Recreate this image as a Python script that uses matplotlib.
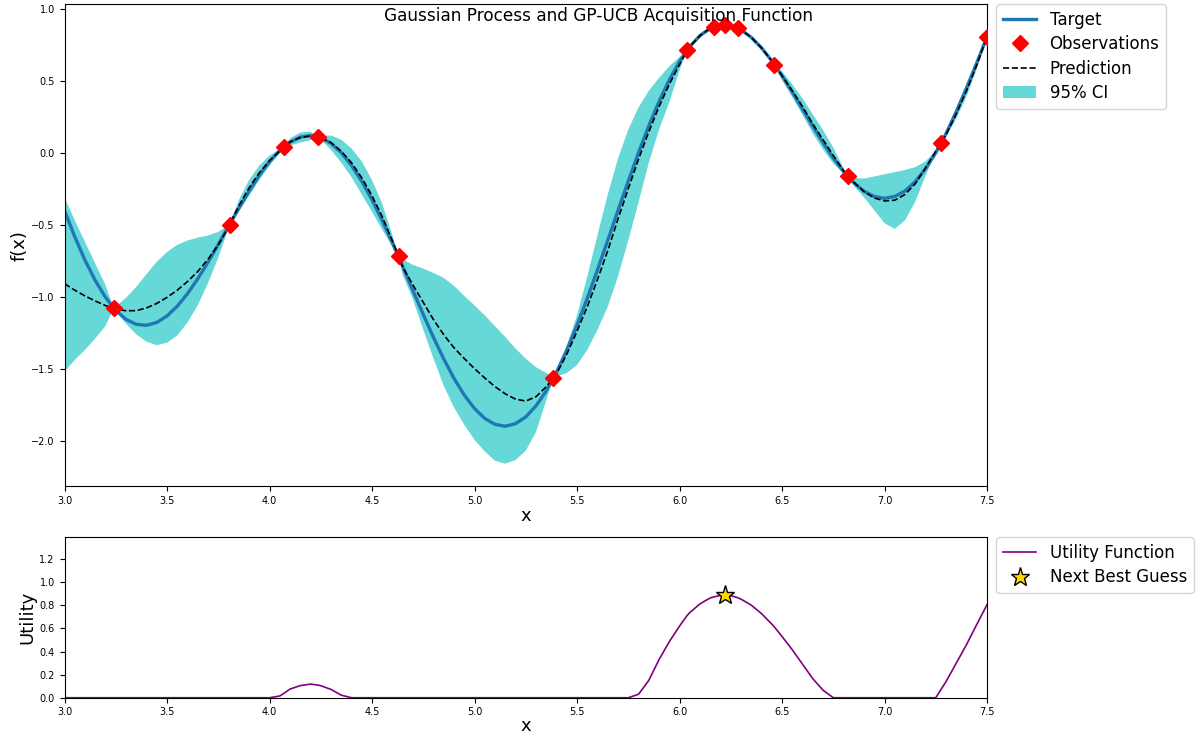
import numpy as np
import matplotlib.pyplot as plt

# objective f(x) on a regular grid
target_x = np.linspace(3.0, 7.5, 91)
target_y = [
    -0.403, -0.584, -0.747, -0.888, -1.005, -1.095, -1.158, -1.192, -1.199, -1.179,
    -1.134, -1.066, -0.979, -0.876, -0.761, -0.638, -0.512, -0.387, -0.268, -0.158,
    -0.063, 0.015, 0.073, 0.108, 0.119, 0.105, 0.065, 0.000, -0.089, -0.198,
    -0.327, -0.472, -0.628, -0.792, -0.959, -1.124, -1.284, -1.433, -1.568, -1.684,
    -1.777, -1.846, -1.887, -1.900, -1.882, -1.835, -1.758, -1.654, -1.524, -1.371,
    -1.199, -1.012, -0.813, -0.608, -0.401, -0.197, 0.000, 0.186, 0.355, 0.505,
    0.634, 0.737, 0.814, 0.864, 0.887, 0.883, 0.854, 0.801, 0.728, 0.638,
    0.534, 0.421, 0.303, 0.184, 0.069, -0.037, -0.131, -0.209, -0.268, -0.304,
    -0.317, -0.304, -0.266, -0.201, -0.112, 0.000, 0.133, 0.284, 0.449, 0.624,
    0.806,
]

# sampled points
obs_x = [3.24, 3.805, 4.07, 4.235, 4.63, 5.385, 6.037, 6.17, 6.224, 6.285, 6.463, 6.82, 7.275, 7.5]
obs_y = [-1.08, -0.50, 0.038, 0.109, -0.72, -1.563, 0.712, 0.874, 0.888, 0.865, 0.612, -0.164, 0.065, 0.806]

# GP posterior and acquisition values
gp_x = [
    3.00, 3.05, 3.10, 3.15, 3.20, 3.24, 3.25, 3.30,
    3.35, 3.40, 3.45, 3.50, 3.55, 3.60, 3.65, 3.70,
    3.75, 3.80, 3.805, 3.85, 3.90, 3.95, 4.00, 4.05,
    4.07, 4.10, 4.15, 4.20, 4.235, 4.25, 4.30, 4.35,
    4.40, 4.45, 4.50, 4.55, 4.60, 4.63, 4.65, 4.70,
    4.75, 4.80, 4.85, 4.90, 4.95, 5.00, 5.05, 5.10,
    5.15, 5.20, 5.25, 5.30, 5.35, 5.385, 5.40, 5.45,
    5.50, 5.55, 5.60, 5.65, 5.70, 5.75, 5.80, 5.85,
    5.90, 5.95, 6.00, 6.037, 6.05, 6.10, 6.15, 6.17,
    6.20, 6.224, 6.25, 6.285, 6.30, 6.35, 6.40, 6.45,
    6.463, 6.50, 6.55, 6.60, 6.65, 6.70, 6.75, 6.80,
    6.82, 6.85, 6.90, 6.95, 7.00, 7.05, 7.10, 7.15,
    7.20, 7.25, 7.275, 7.30, 7.35, 7.40, 7.45, 7.50,
]
gp_mean = [
    -0.910, -0.955, -0.995, -1.030, -1.062, -1.080, -1.085, -1.098,
    -1.097, -1.078, -1.047, -1.005, -0.955, -0.895, -0.825, -0.740,
    -0.640, -0.515, -0.500, -0.370, -0.245, -0.140, -0.055, 0.012,
    0.038, 0.075, 0.105, 0.117, 0.109, 0.103, 0.070, 0.010,
    -0.070, -0.175, -0.300, -0.445, -0.615, -0.720, -0.795, -0.920,
    -1.040, -1.160, -1.265, -1.355, -1.430, -1.500, -1.565, -1.625,
    -1.675, -1.712, -1.725, -1.695, -1.625, -1.563, -1.535, -1.400,
    -1.240, -1.070, -0.880, -0.680, -0.460, -0.250, -0.045, 0.145,
    0.320, 0.475, 0.612, 0.712, 0.737, 0.813, 0.864, 0.874,
    0.886, 0.888, 0.883, 0.865, 0.853, 0.801, 0.728, 0.637,
    0.612, 0.535, 0.430, 0.320, 0.200, 0.090, -0.020, -0.125,
    -0.164, -0.205, -0.270, -0.315, -0.335, -0.330, -0.290, -0.215,
    -0.105, 0.010, 0.065, 0.125, 0.270, 0.430, 0.610, 0.806,
]
ci_upper = [
    -0.310, -0.470, -0.620, -0.770, -0.920, -1.080, -1.069, -1.008,
    -0.932, -0.843, -0.757, -0.690, -0.640, -0.610, -0.590, -0.575,
    -0.550, -0.505, -0.500, -0.330, -0.190, -0.090, -0.020, 0.024,
    0.038, 0.100, 0.140, 0.147, 0.109, 0.115, 0.120, 0.090,
    0.030, -0.060, -0.190, -0.355, -0.575, -0.720, -0.740, -0.780,
    -0.805, -0.835, -0.870, -0.925, -0.995, -1.060, -1.130, -1.205,
    -1.280, -1.360, -1.430, -1.490, -1.530, -1.563, -1.515, -1.340,
    -1.130, -0.860, -0.570, -0.290, -0.040, 0.160, 0.315, 0.430,
    0.520, 0.600, 0.665, 0.712, 0.742, 0.828, 0.870, 0.874,
    0.889, 0.888, 0.885, 0.865, 0.855, 0.812, 0.742, 0.643,
    0.612, 0.565, 0.475, 0.378, 0.266, 0.158, 0.035, -0.105,
    -0.164, -0.175, -0.180, -0.165, -0.150, -0.135, -0.120, -0.100,
    -0.060, 0.015, 0.065, 0.150, 0.315, 0.480, 0.650, 0.806,
]
ci_lower = [
    -1.520, -1.440, -1.370, -1.290, -1.204, -1.080, -1.101, -1.188,
    -1.262, -1.313, -1.337, -1.320, -1.270, -1.180, -1.060, -0.905,
    -0.730, -0.525, -0.500, -0.410, -0.300, -0.190, -0.090, 0.000,
    0.038, 0.050, 0.070, 0.087, 0.109, 0.091, 0.020, -0.070,
    -0.170, -0.290, -0.410, -0.535, -0.655, -0.720, -0.850, -1.020,
    -1.230, -1.430, -1.620, -1.770, -1.890, -1.995, -2.075, -2.140,
    -2.160, -2.135, -2.070, -1.940, -1.720, -1.563, -1.555, -1.530,
    -1.475, -1.370, -1.230, -1.070, -0.860, -0.610, -0.345, -0.070,
    0.160, 0.350, 0.570, 0.712, 0.732, 0.798, 0.858, 0.874,
    0.883, 0.888, 0.881, 0.865, 0.851, 0.790, 0.714, 0.631,
    0.612, 0.505, 0.385, 0.262, 0.134, 0.022, -0.075, -0.145,
    -0.164, -0.230, -0.310, -0.400, -0.490, -0.530, -0.470, -0.340,
    -0.160, 0.000, 0.065, 0.110, 0.235, 0.390, 0.580, 0.806,
]
utility = [
    0, 0, 0, 0, 0, 0, 0, 0,
    0, 0, 0, 0, 0, 0, 0, 0,
    0, 0, 0, 0, 0, 0, 0, 0.015,
    0.038, 0.075, 0.105, 0.118, 0.110, 0.104, 0.072, 0.022,
    0, 0, 0, 0, 0, 0, 0, 0,
    0, 0, 0, 0, 0, 0, 0, 0,
    0, 0, 0, 0, 0, 0, 0, 0,
    0, 0, 0, 0, 0, 0, 0.030, 0.150,
    0.330, 0.485, 0.620, 0.712, 0.737, 0.813, 0.864, 0.874,
    0.886, 0.888, 0.883, 0.865, 0.853, 0.801, 0.728, 0.637,
    0.612, 0.530, 0.415, 0.290, 0.165, 0.065, 0, 0,
    0, 0, 0, 0, 0, 0, 0, 0,
    0, 0, 0.070, 0.140, 0.300, 0.460, 0.635, 0.806,
]

fig = plt.figure(figsize=(11.97, 7.35), dpi=100)
fig.suptitle('Gaussian Process and GP-UCB Acquisition Function', fontsize=12.2, y=0.99)

axis = fig.add_axes([0.0539, 0.3388, 0.7707, 0.6554])
acq = fig.add_axes([0.0539, 0.0507, 0.7707, 0.2182])

axis.plot(target_x, target_y, linewidth=2.4, label='Target')
axis.plot(obs_x, obs_y, 'D', markersize=8, color='r', label='Observations', zorder=4)
axis.plot(gp_x, gp_mean, '--', color='k', linewidth=1.2, label='Prediction', zorder=3)
axis.fill_between(gp_x, ci_lower, ci_upper, alpha=.6, fc='c', ec='None', label='95% CI')

axis.set_xlim((3, 7.5))
axis.set_ylim((-2.315, 1.031))
axis.set_ylabel('f(x)', fontsize=13, labelpad=2)
axis.set_xlabel('x', fontsize=13, labelpad=1)
axis.tick_params(labelsize=7)
axis.legend(loc=2, bbox_to_anchor=(1.01, 1), borderaxespad=0., fontsize=12, labelspacing=0.38)

acq.plot(gp_x, utility, label='Utility Function', color='purple', linewidth=1.2)
best = int(np.argmax(utility))
acq.plot(gp_x[best], utility[best], '*', markersize=14, label='Next Best Guess',
         markerfacecolor='gold', markeredgecolor='k', markeredgewidth=1)
acq.set_xlim((3, 7.5))
acq.set_ylim((0, np.max(utility) + 0.5))
acq.set_ylabel('Utility', fontsize=13, labelpad=2)
acq.set_xlabel('x', fontsize=13, labelpad=0)
acq.tick_params(labelsize=7)
acq.legend(loc=2, bbox_to_anchor=(1.01, 1), borderaxespad=0., fontsize=12, labelspacing=0.38)

plt.savefig('out.png', dpi=100)
